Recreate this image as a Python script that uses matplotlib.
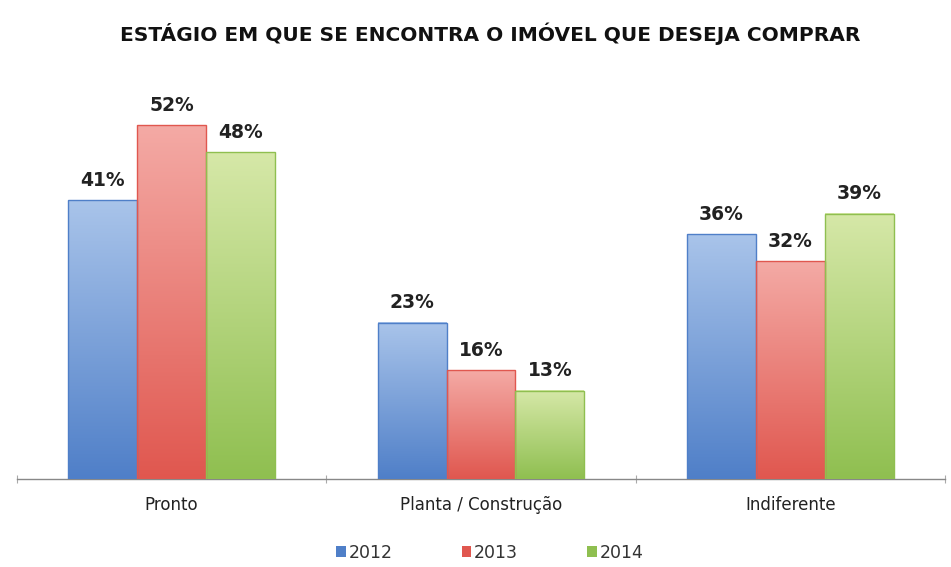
import numpy as np
import matplotlib.pyplot as plt
from matplotlib.colors import LinearSegmentedColormap

# Dados
categorias = ["Pronto", "Planta / Construção", "Indiferente"]
anos = ["2012", "2013", "2014"]
v2012 = [41, 23, 36]
v2013 = [52, 16, 32]
v2014 = [48, 13, 39]

# Cores (topo claro -> base escura)
cores = ["#4f7fc8", "#e0574f", "#8fbf50"]
claras = ["#a9c4ea", "#f4aaa5", "#d6e8a8"]

fig = plt.figure(figsize=(9.51, 5.67), dpi=100)
ax = fig.add_axes([17 / 951, 88 / 567, 928 / 951, 381 / 567])

x = np.arange(len(categorias))
largura = 0.223

series = [v2012, v2013, v2014]
for i, vals in enumerate(series):
    pos = x + (i - 1) * largura
    barras = ax.bar(pos, vals, largura, color=cores[i], label=anos[i],
                    edgecolor="none", zorder=2)
    cmap = LinearSegmentedColormap.from_list("g", [claras[i], cores[i]])
    grad = np.linspace(0, 1, 256).reshape(-1, 1)
    for b, v in zip(barras, vals):
        x0 = b.get_x()
        w = b.get_width()
        h = b.get_height()
        ax.imshow(grad, cmap=cmap, aspect="auto", extent=(x0, x0 + w, 0, h),
                  zorder=3, interpolation="bicubic")
        # borda leve
        ax.add_patch(plt.Rectangle((x0, 0), w, h, fill=False,
                                   edgecolor=cores[i], lw=1.0, zorder=4))
        ax.text(x0 + w / 2, h + 1.5, f"{v}%", ha="center", va="bottom",
                fontsize=13.5, fontweight="bold", color="#222222", zorder=5)

ax.set_xlim(-0.5, 2.5)
ax.set_ylim(0, 56)

for s in ["top", "right", "left"]:
    ax.spines[s].set_visible(False)
ax.spines["bottom"].set_color("#888888")
ax.spines["bottom"].set_linewidth(1.0)
ax.set_yticks([])

# marcas entre categorias
ax.set_xticks([-0.5, 0.5, 1.5, 2.5])
ax.set_xticklabels([])
ax.tick_params(axis="x", direction="inout", length=6, color="#aaaaaa")
for xi, nome in zip(x, categorias):
    ax.text(xi, -3.8, nome, ha="center", va="center", fontsize=12,
            color="#222222")

fig.text(0.515, 0.94, "ESTÁGIO EM QUE SE ENCONTRA O IMÓVEL QUE DESEJA COMPRAR",
         ha="center", va="center", fontsize=14.5, fontweight="bold",
         color="#111111")

leg = fig.legend(loc="center", bbox_to_anchor=(0.515, 0.025), ncol=3,
                 frameon=False, fontsize=12.5, handlelength=0.55,
                 handleheight=0.55, columnspacing=4.0, handletextpad=0.15)
for t in leg.get_texts():
    t.set_color("#333333")

fig.savefig("out.png", dpi=100, facecolor="white")
